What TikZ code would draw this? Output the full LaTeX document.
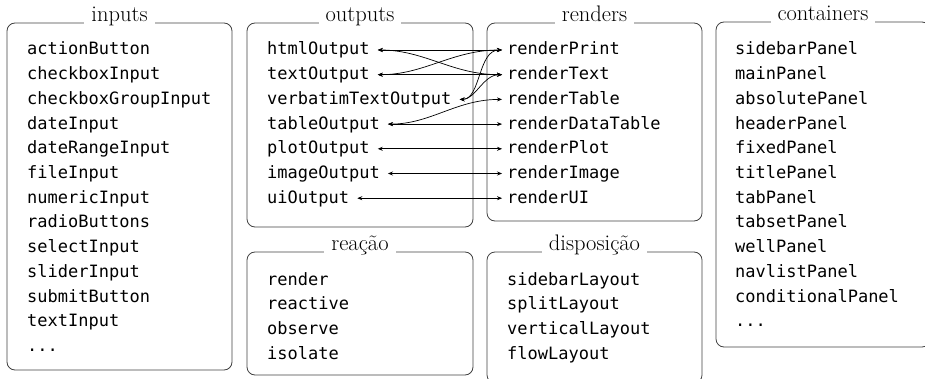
\documentclass[tikz,border=0pt]{standalone}
\usepackage{fontspec}
\setmonofont{DejaVu Sans Mono}
\usetikzlibrary{arrows.meta}
\newcommand\mydots{.{}.{}.}
\begin{document}
\begin{tikzpicture}[x=1pt,y=-1pt,
  panel/.style={draw=black!75, line width=0.8pt, rounded corners=8pt},
  heading/.style={fill=white, inner xsep=7pt, inner ysep=2pt, anchor=base, text depth=5pt, font=\fontsize{22.5}{22.5}\selectfont},
  item/.style={anchor=base west, inner sep=0pt, text height=13pt, text depth=3pt, font=\fontsize{17}{17}\selectfont\ttfamily},
  link/.style={{Stealth[length=5pt,width=4pt]}-{Stealth[length=5pt,width=4pt]}, line width=0.7pt, shorten <=8pt, shorten >=5pt}
]
\useasboundingbox (0,0) rectangle (925,379);

% panels
\draw[panel] (7,23) rectangle (232,370);
\draw[panel] (247,23) rectangle (473,227);
\draw[panel] (487,23) rectangle (702,221);
\draw[panel] (716,22) rectangle (930,347);
\draw[panel] (247,252) rectangle (473,375);
\draw[panel] (487,252) rectangle (702,383);

% headings
\node[heading] (hin) at (119.5,21.5) {inputs};
\node[heading] (hout) at (360,21.5) {outputs};
\node[heading] (hren) at (594.5,21.5) {renders};
\node[heading] (hcon) at (823,20.5) {containers};
\node[heading] (hrea) at (360,250.5) {reação};
\node[heading] (hdis) at (594.5,250.5) {disposição};

% inputs
\foreach \t [count=\i from 0] in {actionButton,checkboxInput,checkboxGroupInput,dateInput,dateRangeInput,fileInput,numericInput,radioButtons,selectInput,sliderInput,submitButton,textInput,\mydots}
  \node[item] (in\i) at (27,{55+24.7*\i}) {\t};

% containers
\foreach \t [count=\i from 0] in {sidebarPanel,mainPanel,absolutePanel,headerPanel,fixedPanel,titlePanel,tabPanel,tabsetPanel,wellPanel,navlistPanel,conditionalPanel,\mydots}
  \node[item] (con\i) at (735,{55+24.7*\i}) {\t};

% reacao
\foreach \t [count=\i from 0] in {render,reactive,observe,isolate}
  \node[item] (rea\i) at (267,{285+24.7*\i}) {\t};

% disposicao
\foreach \t [count=\i from 0] in {sidebarLayout,splitLayout,verticalLayout,flowLayout}
  \node[item] (dis\i) at (507,{285+24.7*\i}) {\t};

% outputs
\node[item] (oHtml)  at (267,55)    {htmlOutput};
\node[item] (oText)  at (267,79.7)  {textOutput};
\node[item] (oVerb)  at (267,104.4) {verbatimTextOutput};
\node[item] (oTable) at (267,129.1) {tableOutput};
\node[item] (oPlot)  at (267,153.8) {plotOutput};
\node[item] (oImage) at (267,178.5) {imageOutput};
\node[item] (oUI)    at (267,203.2) {uiOutput};

% renders
\node[item] (rPrint) at (507,55)    {renderPrint};
\node[item] (rText)  at (507,79.7)  {renderText};
\node[item] (rTable) at (507,104.4) {renderTable};
\node[item] (rDT)    at (507,129.1) {renderDataTable};
\node[item] (rPlot)  at (507,153.8) {renderPlot};
\node[item] (rImage) at (507,178.5) {renderImage};
\node[item] (rUI)    at (507,203.2) {renderUI};

% connectors
\draw[link] (oHtml.east) -- (rPrint.west);
\draw[link] (oHtml.east) to[out=0,in=180] (rText.west);
\draw[link] (oText.east) -- (rText.west);
\draw[link] (oText.east) to[out=0,in=180] (rPrint.west);
\draw[link] (oVerb.east) to[out=0,in=180] (rPrint.west);
\draw[link] (oVerb.east) to[out=0,in=180] (rText.west);
\draw[link] (oTable.east) to[out=0,in=180] (rTable.west);
\draw[link] (oTable.east) -- (rDT.west);
\draw[link] (oPlot.east) -- (rPlot.west);
\draw[link] (oImage.east) -- (rImage.west);
\draw[link] (oUI.east) -- (rUI.west);
\end{tikzpicture}
\end{document}
